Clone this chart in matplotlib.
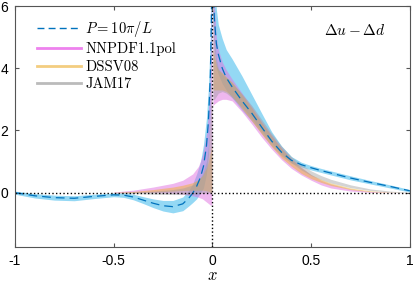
import numpy as np
import matplotlib
matplotlib.use("Agg")
import matplotlib.pyplot as plt
from matplotlib.lines import Line2D

plt.rcParams['mathtext.fontset'] = 'cm'
plt.rcParams['font.family'] = ['Liberation Sans', 'DejaVu Sans']

# ---------------- data ----------------
# positive-x grid
XP = [0.003, 0.01, 0.02, 0.03, 0.05, 0.07, 0.1, 0.15, 0.2, 0.25, 0.3, 0.35,
      0.4, 0.45, 0.5, 0.55, 0.6, 0.7, 0.8, 0.9, 1.0]
# quasi-PDF (P = 10 pi / L), positive x
qp_mid = [6.8, 5.6, 4.8, 4.45, 4.0, 3.7, 3.4, 2.95, 2.55, 2.1, 1.66, 1.3,
          1.04, 0.9, 0.8, 0.71, 0.63, 0.47, 0.33, 0.2, 0.06]
qp_lo = [5.5, 4.6, 4.0, 3.8, 3.5, 3.3, 3.05, 2.65, 2.3, 1.9, 1.5, 1.18,
         0.95, 0.83, 0.73, 0.65, 0.57, 0.41, 0.28, 0.15, 0.02]
qp_hi = [8.0, 7.0, 5.9, 5.4, 4.95, 4.6, 4.3, 3.75, 3.15, 2.55, 1.96, 1.5,
         1.16, 0.98, 0.87, 0.78, 0.7, 0.54, 0.39, 0.25, 0.1]

# negative-x grid for quasi-PDF
XN_Q = [-1.0, -0.9, -0.8, -0.7, -0.6, -0.5, -0.45, -0.4, -0.35, -0.3, -0.25,
        -0.2, -0.15, -0.12, -0.1, -0.08, -0.06, -0.045, -0.03, -0.02, -0.01, -0.003]
qn_mid = [0.0, -0.1, -0.16, -0.18, -0.12, -0.07, -0.08, -0.14, -0.24, -0.34,
          -0.42, -0.45, -0.36, -0.18, -0.02, 0.2, 0.5, 0.85, 1.5, 2.3, 3.8, 6.5]
qn_lo = [-0.05, -0.17, -0.24, -0.26, -0.19, -0.13, -0.15, -0.23, -0.35, -0.48,
         -0.59, -0.65, -0.58, -0.43, -0.32, -0.2, 0.0, 0.15, 0.6, 1.2, 2.5, 5.0]
qn_hi = [0.05, -0.03, -0.08, -0.1, -0.05, -0.01, -0.01, -0.05, -0.13, -0.2,
         -0.25, -0.25, -0.14, 0.07, 0.28, 0.6, 1.0, 1.55, 2.4, 3.4, 5.1, 8.0]

# global fits, negative x grid
XN_F = [-0.5, -0.4, -0.3, -0.2, -0.15, -0.1, -0.07, -0.05, -0.03, -0.02, -0.01, -0.003]
nn_n_hi = [0.02, 0.08, 0.18, 0.3, 0.4, 0.6, 0.85, 1.2, 1.9, 2.6, 4.0, 7.0]
nn_n_lo = [0.0, 0.0, 0.0, -0.02, -0.05, -0.1, -0.15, -0.2, -0.3, -0.35, -0.4, -0.4]
ds_n_hi = [0.01, 0.04, 0.1, 0.18, 0.24, 0.32, 0.42, 0.55, 0.8, 1.0, 1.3, 1.5]
ds_n_lo = [0.0, 0.0, 0.02, 0.05, 0.07, 0.08, 0.08, 0.08, 0.06, 0.04, 0.02, 0.0]
jam_n_hi = [0.0, 0.02, 0.05, 0.1, 0.15, 0.25, 0.4, 0.6, 1.0, 1.5, 2.5, 4.0]
jam_n_lo = [-0.01, -0.03, -0.05, -0.06, -0.06, -0.05, -0.04, -0.02, 0.0, 0.0, 0.0, 0.0]

# global fits, positive x (grid XP)
nn_p_lo = [2.8, 2.85, 2.9, 2.95, 3.0, 3.0, 2.95, 2.6, 2.2, 1.78, 1.4, 1.06,
           0.78, 0.57, 0.4, 0.25, 0.15, 0.05, 0.01, 0.0, 0.0]
nn_p_hi = [7.0, 6.0, 5.0, 4.6, 4.2, 3.95, 3.65, 3.2, 2.75, 2.28, 1.85, 1.45,
           1.1, 0.82, 0.58, 0.4, 0.28, 0.12, 0.04, 0.01, 0.0]
ds_p_lo = [3.3, 3.3, 3.3, 3.3, 3.3, 3.25, 3.1, 2.7, 2.3, 1.88, 1.48, 1.12,
           0.85, 0.62, 0.45, 0.33, 0.23, 0.1, 0.03, 0.01, 0.0]
ds_p_hi = [4.6, 4.4, 4.1, 3.95, 3.85, 3.72, 3.55, 3.15, 2.72, 2.25, 1.82, 1.42,
           1.08, 0.8, 0.58, 0.43, 0.31, 0.15, 0.06, 0.02, 0.0]
jam_p_lo = [3.0, 3.0, 3.1, 3.2, 3.25, 3.2, 3.05, 2.75, 2.38, 1.98, 1.6, 1.25,
            0.96, 0.73, 0.55, 0.42, 0.31, 0.16, 0.07, 0.02, 0.0]
jam_p_hi = [6.5, 5.0, 4.3, 4.0, 3.8, 3.7, 3.52, 3.18, 2.8, 2.35, 1.9, 1.5,
            1.16, 0.9, 0.7, 0.55, 0.43, 0.25, 0.12, 0.05, 0.01]

labels = [r'$P=10\pi/L$', 'NNPDF1.1pol', 'DSSV08', 'JAM17']
xticks = [-1, -0.5, 0, 0.5, 1]
xticklabels = ['-1', '-0.5', '0', '0.5', '1']
yticks = [0, 2, 4, 6]

# ---------------- plot ----------------
c_blue = '#4DBEEE'
c_dash = '#0072BD'
c_pink = '#E070E0'
c_orange = '#EDB120'
c_gray = '#A0A0A0'

fig = plt.figure(figsize=(4.14, 2.86), dpi=100)
ax = fig.add_axes([0.036, 0.136, 0.954, 0.843])

ax.fill_between(XN_Q, qn_lo, qn_hi, color=c_blue, alpha=0.6, lw=0)
ax.fill_between(XP, qp_lo, qp_hi, color=c_blue, alpha=0.6, lw=0)
for xs, lo, hi, c, a in [
        (XN_F, nn_n_lo, nn_n_hi, c_pink, 0.5), (XP, nn_p_lo, nn_p_hi, c_pink, 0.5),
        (XN_F, ds_n_lo, ds_n_hi, c_orange, 0.45), (XP, ds_p_lo, ds_p_hi, c_orange, 0.45),
        (XN_F, jam_n_lo, jam_n_hi, c_gray, 0.45), (XP, jam_p_lo, jam_p_hi, c_gray, 0.45)]:
    ax.fill_between(xs, lo, hi, color=c, alpha=a, lw=0)

ax.plot(XN_Q, qn_mid, color=c_dash, ls=(0, (7, 4)), lw=0.9)
ax.plot(XP, qp_mid, color=c_dash, ls=(0, (7, 4)), lw=0.9)

ax.axhline(0, color='black', ls=':', lw=1.0)
ax.axvline(0, color='black', ls=':', lw=1.0)

ax.set_xlim(-1, 1)
ax.set_ylim(-1.75, 6)
ax.set_xticks(xticks)
ax.set_xticklabels(xticklabels)
ax.set_yticks(yticks)
ax.tick_params(direction='in', top=True, right=True, labelsize=10, length=3,
               color='#555555', pad=5)
for s in ax.spines.values():
    s.set_color('#555555')
    s.set_linewidth(0.8)

ax.set_xlabel(r'$x$', fontsize=12, labelpad=0)
ax.text(0.86, 0.9, r'$\Delta u-\Delta d$', transform=ax.transAxes,
        fontsize=11, ha='center', va='center')

handles = [Line2D([], [], color=c_dash, ls=(0, (5, 3)), lw=1.0),
           Line2D([], [], color='#EE82EE', lw=2),
           Line2D([], [], color='#F3CD80', lw=2),
           Line2D([], [], color='#BBBBBB', lw=2)]
leg = ax.legend(handles, labels, loc='upper left', frameon=False,
                prop={'family': 'cmr10', 'size': 10.5},
                handlelength=3.0, handletextpad=0.3, labelspacing=0.25,
                borderaxespad=0.3, bbox_to_anchor=(0.03, 0.99))

fig.savefig('out.png', dpi=100)
